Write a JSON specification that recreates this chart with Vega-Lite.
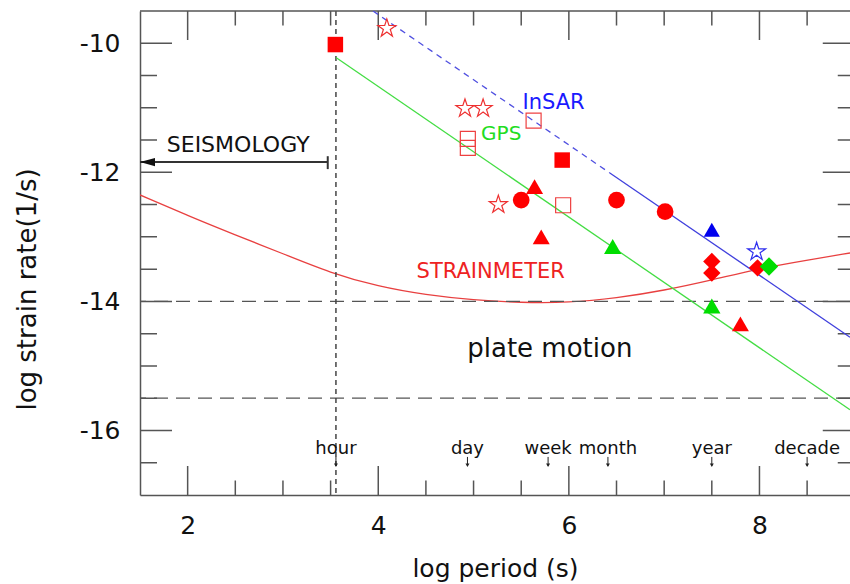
{
  "$schema": "https://vega.github.io/schema/vega-lite/v6.json",
  "width": 710,
  "height": 484,
  "autosize": {"type": "none"},
  "padding": {"left": 140, "top": 11, "right": 0, "bottom": 89},
  "background": "white",
  "config": {"view": {"stroke": null}, "axis": {"grid": false}},
  "datasets": {
    "pts": [
      {"x": 3.55, "y": -10.02, "g": "rsq"},
      {"x": 5.93, "y": -11.81, "g": "rsq"},
      {"x": 4.94, "y": -11.48, "g": "rosq"},
      {"x": 4.94, "y": -11.62, "g": "rosq"},
      {"x": 5.63, "y": -11.2, "g": "rosq"},
      {"x": 5.94, "y": -12.51, "g": "rosq"},
      {"x": 4.09, "y": -9.77, "g": "rstar"},
      {"x": 4.91, "y": -11.01, "g": "rstar"},
      {"x": 5.1, "y": -11.01, "g": "rstar"},
      {"x": 5.26, "y": -12.5, "g": "rstar"},
      {"x": 5.5, "y": -12.43, "g": "rcirc"},
      {"x": 6.5, "y": -12.43, "g": "rcirc"},
      {"x": 7.01, "y": -12.61, "g": "rcirc"},
      {"x": 5.64, "y": -12.22, "g": "rtri"},
      {"x": 5.71, "y": -13.0, "g": "rtri"},
      {"x": 7.8, "y": -14.35, "g": "rtri"},
      {"x": 7.5, "y": -13.38, "g": "rdia"},
      {"x": 7.5, "y": -13.56, "g": "rdia"},
      {"x": 7.98, "y": -13.48, "g": "rdia"},
      {"x": 6.46, "y": -13.15, "g": "gtri"},
      {"x": 7.5, "y": -14.07, "g": "gtri"},
      {"x": 8.1, "y": -13.46, "g": "gdia"},
      {"x": 7.5, "y": -12.89, "g": "btri"},
      {"x": 7.97, "y": -13.23, "g": "bstar"}
    ],
    "sm": [
      {"x": 1.5, "y": -12.35}, {"x": 2.0, "y": -12.67}, {"x": 2.5, "y": -12.97},
      {"x": 3.0, "y": -13.26}, {"x": 3.5, "y": -13.56}, {"x": 4.0, "y": -13.77},
      {"x": 4.5, "y": -13.9}, {"x": 5.0, "y": -13.98}, {"x": 5.5, "y": -14.02},
      {"x": 6.0, "y": -14.02}, {"x": 6.5, "y": -13.95}, {"x": 7.0, "y": -13.83},
      {"x": 7.5, "y": -13.67}, {"x": 8.0, "y": -13.49}, {"x": 8.5, "y": -13.36},
      {"x": 8.95, "y": -13.25}
    ],
    "gps": [{"x": 3.556, "y": -10.22}, {"x": 8.95, "y": -15.68}],
    "insarD": [{"x": 3.945, "y": -9.5}, {"x": 6.43, "y": -12.01}],
    "insarS": [{"x": 6.43, "y": -12.01}, {"x": 8.95, "y": -14.555}],
    "hl": [{"y": -14}, {"y": -15.5}],
    "vl": [{"x": 3.556}],
    "xt": [
      {"v": 2, "k": "M"}, {"v": 2.5, "k": "m"}, {"v": 3, "k": "m"}, {"v": 3.5, "k": "m"},
      {"v": 4, "k": "M"}, {"v": 4.5, "k": "m"}, {"v": 5, "k": "m"}, {"v": 5.5, "k": "m"},
      {"v": 6, "k": "M"}, {"v": 6.5, "k": "m"}, {"v": 7, "k": "m"}, {"v": 7.5, "k": "m"},
      {"v": 8, "k": "M"}, {"v": 8.5, "k": "m"}
    ],
    "yt": [
      {"v": -16.5, "k": "m"}, {"v": -16, "k": "M"}, {"v": -15.5, "k": "m"}, {"v": -15, "k": "m"},
      {"v": -14.5, "k": "m"}, {"v": -14, "k": "M"}, {"v": -13.5, "k": "m"}, {"v": -13, "k": "m"},
      {"v": -12.5, "k": "m"}, {"v": -12, "k": "M"}, {"v": -11.5, "k": "m"}, {"v": -11, "k": "m"},
      {"v": -10.5, "k": "m"}, {"v": -10, "k": "M"}
    ],
    "seis": [{"x": 1.5, "x2": 3.47, "y": -11.84}],
    "seisEnd": [{"x": 3.47, "y": -11.75, "y2": -11.95}],
    "seisHead": [{"x": 1.579, "y": -11.84}],
    "per": [
      {"label": "hour", "x": 3.556},
      {"label": "day", "x": 4.936},
      {"label": "week", "x": 5.782},
      {"label": "month", "x": 6.41},
      {"label": "year", "x": 7.5},
      {"label": "decade", "x": 8.5}
    ],
    "txtSeis": [{"label": "SEISMOLOGY", "x": 2.53, "y": -11.68}],
    "txtPlate": [{"label": "plate motion", "x": 5.8, "y": -14.86}],
    "txtInsar": [{"label": "InSAR", "x": 5.84, "y": -11.02}],
    "txtGps": [{"label": "GPS", "x": 5.29, "y": -11.5}],
    "txtSm": [{"label": "STRAINMETER", "x": 5.18, "y": -13.63}]
  },
  "layer": [
    {
      "data": {"name": "sm"},
      "mark": {"type": "line", "color": "#e84040", "strokeWidth": 1.3, "interpolate": "basis", "clip": true},
      "encoding": {
        "x": {"field": "x", "type": "quantitative", "scale": {"domain": [1.5, 8.95], "nice": false, "zero": false},
          "axis": {"orient": "bottom", "values": [2, 4, 6, 8], "ticks": false, "domain": true, "domainColor": "#555555", "domainWidth": 1.5,
            "labelFont": "DejaVu Sans", "labelFontSize": 25, "labelColor": "#111111", "labelPadding": 18, "labelExpr": "toString(datum.value)",
            "title": "log period (s)", "titleFont": "DejaVu Sans", "titleFontSize": 25, "titleFontWeight": "normal", "titleColor": "#111111", "titlePadding": 18}},
        "y": {"field": "y", "type": "quantitative", "scale": {"domain": [-17, -9.5], "nice": false, "zero": false},
          "axis": {"orient": "left", "values": [-16, -14, -12, -10], "ticks": false, "domain": true, "domainColor": "#555555", "domainWidth": 1.5,
            "labelFont": "DejaVu Sans", "labelFontSize": 25, "labelColor": "#111111", "labelPadding": 20, "labelExpr": "toString(datum.value)",
            "title": "log strain rate(1/s)", "titleFont": "DejaVu Sans", "titleFontSize": 26, "titleFontWeight": "normal", "titleColor": "#111111",
            "titleAngle": -90, "titleAlign": "center", "titleBaseline": "middle", "titleX": -113, "titleY": 278}}
      }
    },
    {
      "data": {"name": "hl"},
      "mark": {"type": "rule", "color": "#555555", "strokeWidth": 1.3, "strokeDash": [14, 8]},
      "encoding": {"y": {"field": "y", "type": "quantitative"}}
    },
    {
      "data": {"name": "vl"},
      "mark": {"type": "rule", "color": "#444444", "strokeWidth": 1.5, "strokeDash": [5, 4]},
      "encoding": {"x": {"field": "x", "type": "quantitative"}}
    },
    {
      "data": {"values": [{"e": 1}]},
      "mark": {"type": "rule", "color": "#555555", "strokeWidth": 1.5},
      "encoding": {"y": {"datum": -9.5, "type": "quantitative"}}
    },
    {
      "data": {"name": "xt"},
      "transform": [{"filter": "datum.k === 'M'"}],
      "mark": {"type": "tick", "orient": "vertical", "size": 58, "thickness": 1.5, "color": "#555555", "opacity": 1, "clip": true},
      "encoding": {"x": {"field": "v", "type": "quantitative"}, "y": {"datum": -17, "type": "quantitative"}}
    },
    {
      "data": {"name": "xt"},
      "transform": [{"filter": "datum.k === 'm'"}],
      "mark": {"type": "tick", "orient": "vertical", "size": 29, "thickness": 1.5, "color": "#555555", "opacity": 1, "clip": true},
      "encoding": {"x": {"field": "v", "type": "quantitative"}, "y": {"datum": -17, "type": "quantitative"}}
    },
    {
      "data": {"name": "xt"},
      "transform": [{"filter": "datum.k === 'M'"}],
      "mark": {"type": "tick", "orient": "vertical", "size": 58, "thickness": 1.5, "color": "#555555", "opacity": 1, "clip": true},
      "encoding": {"x": {"field": "v", "type": "quantitative"}, "y": {"datum": -9.5, "type": "quantitative"}}
    },
    {
      "data": {"name": "xt"},
      "transform": [{"filter": "datum.k === 'm'"}],
      "mark": {"type": "tick", "orient": "vertical", "size": 29, "thickness": 1.5, "color": "#555555", "opacity": 1, "clip": true},
      "encoding": {"x": {"field": "v", "type": "quantitative"}, "y": {"datum": -9.5, "type": "quantitative"}}
    },
    {
      "data": {"name": "yt"},
      "transform": [{"filter": "datum.k === 'M'"}],
      "mark": {"type": "tick", "orient": "horizontal", "size": 64, "thickness": 1.5, "color": "#555555", "opacity": 1, "clip": true},
      "encoding": {"y": {"field": "v", "type": "quantitative"}, "x": {"datum": 1.5, "type": "quantitative"}}
    },
    {
      "data": {"name": "yt"},
      "transform": [{"filter": "datum.k === 'm'"}],
      "mark": {"type": "tick", "orient": "horizontal", "size": 34, "thickness": 1.5, "color": "#555555", "opacity": 1, "clip": true},
      "encoding": {"y": {"field": "v", "type": "quantitative"}, "x": {"datum": 1.5, "type": "quantitative"}}
    },
    {
      "data": {"name": "yt"},
      "transform": [{"filter": "datum.k === 'M'"}],
      "mark": {"type": "tick", "orient": "horizontal", "size": 64, "thickness": 1.5, "color": "#555555", "opacity": 1, "clip": true},
      "encoding": {"y": {"field": "v", "type": "quantitative"}, "x": {"datum": 9.0, "type": "quantitative"}}
    },
    {
      "data": {"name": "yt"},
      "transform": [{"filter": "datum.k === 'm'"}],
      "mark": {"type": "tick", "orient": "horizontal", "size": 34, "thickness": 1.5, "color": "#555555", "opacity": 1, "clip": true},
      "encoding": {"y": {"field": "v", "type": "quantitative"}, "x": {"datum": 9.0, "type": "quantitative"}}
    },
    {
      "data": {"name": "gps"},
      "mark": {"type": "line", "color": "#44dd44", "strokeWidth": 1.3, "clip": true},
      "encoding": {"x": {"field": "x", "type": "quantitative"}, "y": {"field": "y", "type": "quantitative"}}
    },
    {
      "data": {"name": "insarD"},
      "mark": {"type": "line", "color": "#5050e0", "strokeWidth": 1.3, "strokeDash": [6, 5], "clip": true},
      "encoding": {"x": {"field": "x", "type": "quantitative"}, "y": {"field": "y", "type": "quantitative"}}
    },
    {
      "data": {"name": "insarS"},
      "mark": {"type": "line", "color": "#4040dd", "strokeWidth": 1.3, "clip": true},
      "encoding": {"x": {"field": "x", "type": "quantitative"}, "y": {"field": "y", "type": "quantitative"}}
    },
    {
      "data": {"name": "seis"},
      "mark": {"type": "rule", "color": "#333333", "strokeWidth": 2},
      "encoding": {"x": {"field": "x", "type": "quantitative"}, "x2": {"field": "x2"}, "y": {"field": "y", "type": "quantitative"}}
    },
    {
      "data": {"name": "seisEnd"},
      "mark": {"type": "rule", "color": "#333333", "strokeWidth": 2},
      "encoding": {"x": {"field": "x", "type": "quantitative"}, "y": {"field": "y", "type": "quantitative"}, "y2": {"field": "y2"}}
    },
    {
      "data": {"name": "seisHead"},
      "mark": {"type": "point", "shape": "M-1,0L1,-0.55L1,0.55Z", "filled": true, "color": "#111111", "opacity": 1, "size": 225},
      "encoding": {"x": {"field": "x", "type": "quantitative"}, "y": {"field": "y", "type": "quantitative"}}
    },
    {
      "data": {"name": "pts"},
      "transform": [{"filter": "datum.g === 'rosq'"}],
      "mark": {"type": "point", "shape": "square", "filled": false, "stroke": "#ee4040", "strokeWidth": 1.2, "opacity": 1, "size": 225},
      "encoding": {"x": {"field": "x", "type": "quantitative"}, "y": {"field": "y", "type": "quantitative"}}
    },
    {
      "data": {"name": "pts"},
      "transform": [{"filter": "datum.g === 'rstar'"}],
      "mark": {"type": "point", "shape": "M0,-1L0.2245,-0.309L0.951,-0.309L0.363,0.118L0.588,0.809L0,0.382L-0.588,0.809L-0.363,0.118L-0.951,-0.309L-0.2245,-0.309Z", "filled": false, "stroke": "#ee3030", "strokeWidth": 1.2, "opacity": 1, "size": 360},
      "encoding": {"x": {"field": "x", "type": "quantitative"}, "y": {"field": "y", "type": "quantitative"}}
    },
    {
      "data": {"name": "pts"},
      "transform": [{"filter": "datum.g === 'bstar'"}],
      "mark": {"type": "point", "shape": "M0,-1L0.2245,-0.309L0.951,-0.309L0.363,0.118L0.588,0.809L0,0.382L-0.588,0.809L-0.363,0.118L-0.951,-0.309L-0.2245,-0.309Z", "filled": false, "stroke": "#3030ee", "strokeWidth": 1.2, "opacity": 1, "size": 360},
      "encoding": {"x": {"field": "x", "type": "quantitative"}, "y": {"field": "y", "type": "quantitative"}}
    },
    {
      "data": {"name": "pts"},
      "transform": [{"filter": "datum.g === 'rsq'"}],
      "mark": {"type": "point", "shape": "square", "filled": true, "color": "#ff0000", "opacity": 1, "size": 240},
      "encoding": {"x": {"field": "x", "type": "quantitative"}, "y": {"field": "y", "type": "quantitative"}}
    },
    {
      "data": {"name": "pts"},
      "transform": [{"filter": "datum.g === 'rcirc'"}],
      "mark": {"type": "point", "shape": "circle", "filled": true, "color": "#ff0000", "opacity": 1, "size": 280},
      "encoding": {"x": {"field": "x", "type": "quantitative"}, "y": {"field": "y", "type": "quantitative"}}
    },
    {
      "data": {"name": "pts"},
      "transform": [{"filter": "datum.g === 'rtri'"}],
      "mark": {"type": "point", "shape": "triangle-up", "filled": true, "color": "#ff0000", "opacity": 1, "size": 290},
      "encoding": {"x": {"field": "x", "type": "quantitative"}, "y": {"field": "y", "type": "quantitative"}}
    },
    {
      "data": {"name": "pts"},
      "transform": [{"filter": "datum.g === 'rdia'"}],
      "mark": {"type": "point", "shape": "diamond", "filled": true, "color": "#ff0000", "opacity": 1, "size": 300},
      "encoding": {"x": {"field": "x", "type": "quantitative"}, "y": {"field": "y", "type": "quantitative"}}
    },
    {
      "data": {"name": "pts"},
      "transform": [{"filter": "datum.g === 'gtri'"}],
      "mark": {"type": "point", "shape": "triangle-up", "filled": true, "color": "#00dd00", "opacity": 1, "size": 300},
      "encoding": {"x": {"field": "x", "type": "quantitative"}, "y": {"field": "y", "type": "quantitative"}}
    },
    {
      "data": {"name": "pts"},
      "transform": [{"filter": "datum.g === 'gdia'"}],
      "mark": {"type": "point", "shape": "diamond", "filled": true, "color": "#00dd00", "opacity": 1, "size": 340},
      "encoding": {"x": {"field": "x", "type": "quantitative"}, "y": {"field": "y", "type": "quantitative"}}
    },
    {
      "data": {"name": "pts"},
      "transform": [{"filter": "datum.g === 'btri'"}],
      "mark": {"type": "point", "shape": "triangle-up", "filled": true, "color": "#0000ee", "opacity": 1, "size": 260},
      "encoding": {"x": {"field": "x", "type": "quantitative"}, "y": {"field": "y", "type": "quantitative"}}
    },
    {
      "data": {"name": "txtSeis"},
      "mark": {"type": "text", "font": "DejaVu Sans", "fontSize": 22, "color": "#111111", "align": "center", "baseline": "alphabetic"},
      "encoding": {"x": {"field": "x", "type": "quantitative"}, "y": {"field": "y", "type": "quantitative"}, "text": {"field": "label"}}
    },
    {
      "data": {"name": "txtPlate"},
      "mark": {"type": "text", "font": "DejaVu Sans", "fontSize": 26, "color": "#111111", "align": "center", "baseline": "alphabetic"},
      "encoding": {"x": {"field": "x", "type": "quantitative"}, "y": {"field": "y", "type": "quantitative"}, "text": {"field": "label"}}
    },
    {
      "data": {"name": "txtInsar"},
      "mark": {"type": "text", "font": "DejaVu Sans", "fontSize": 21, "color": "#1a1aff", "align": "center", "baseline": "alphabetic"},
      "encoding": {"x": {"field": "x", "type": "quantitative"}, "y": {"field": "y", "type": "quantitative"}, "text": {"field": "label"}}
    },
    {
      "data": {"name": "txtGps"},
      "mark": {"type": "text", "font": "DejaVu Sans", "fontSize": 20, "color": "#22dd22", "align": "center", "baseline": "alphabetic"},
      "encoding": {"x": {"field": "x", "type": "quantitative"}, "y": {"field": "y", "type": "quantitative"}, "text": {"field": "label"}}
    },
    {
      "data": {"name": "txtSm"},
      "mark": {"type": "text", "font": "DejaVu Sans", "fontSize": 21, "color": "#ee2222", "align": "center", "baseline": "alphabetic"},
      "encoding": {"x": {"field": "x", "type": "quantitative"}, "y": {"field": "y", "type": "quantitative"}, "text": {"field": "label"}}
    },
    {
      "data": {"name": "per"},
      "mark": {"type": "text", "font": "DejaVu Sans", "fontSize": 18, "color": "#111111", "align": "center", "baseline": "alphabetic"},
      "encoding": {"x": {"field": "x", "type": "quantitative"}, "y": {"datum": -16.37, "type": "quantitative"}, "text": {"field": "label"}}
    },
    {
      "data": {"name": "per"},
      "mark": {"type": "rule", "color": "#222222", "strokeWidth": 1},
      "encoding": {"x": {"field": "x", "type": "quantitative"}, "y": {"datum": -16.41, "type": "quantitative"}, "y2": {"datum": -16.55}}
    },
    {
      "data": {"name": "per"},
      "mark": {"type": "point", "shape": "triangle-down", "filled": true, "color": "#222222", "opacity": 1, "size": 16},
      "encoding": {"x": {"field": "x", "type": "quantitative"}, "y": {"datum": -16.54, "type": "quantitative"}}
    }
  ]
}
